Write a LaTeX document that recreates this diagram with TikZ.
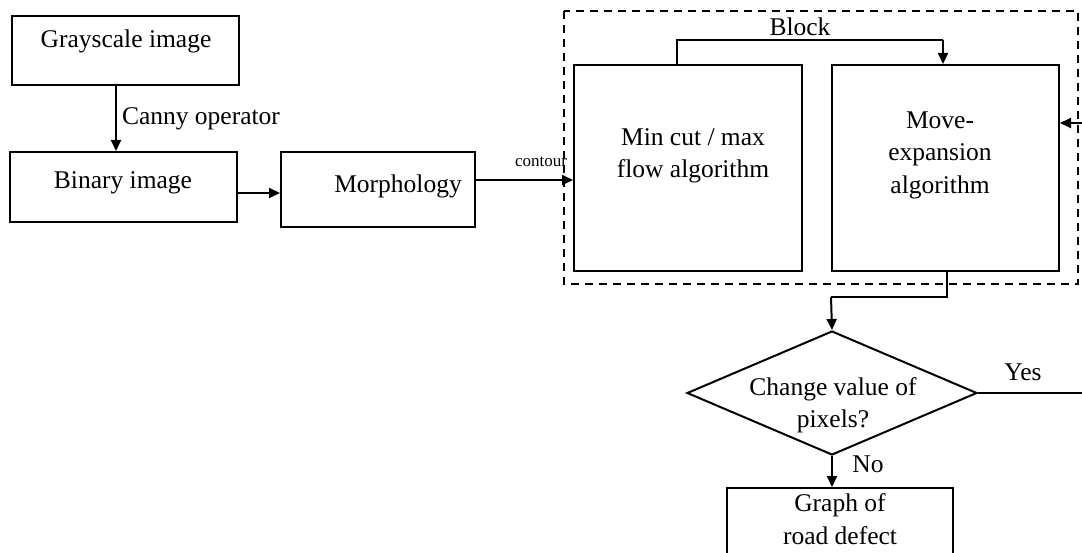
\documentclass[tikz,border=0pt]{standalone}
\usepackage{fontspec}
\setmainfont{Liberation Serif}
\usetikzlibrary{arrows.meta,shapes.geometric}
\begin{document}
\begin{tikzpicture}[x=1pt,y=-1pt,
  box/.style={draw,line width=2pt,rectangle,inner sep=0pt},
  txt/.style={inner sep=0pt,align=center,font=\fontsize{25.5}{32.5}\selectfont},
  small/.style={inner sep=0pt,font=\fontsize{17}{20}\selectfont},
  ln/.style={line width=2pt},
  arr/.style={line width=2pt,-{Triangle[length=11pt,width=10pt]}},
  dbox/.style={draw,line width=2pt,dash pattern=on 8pt off 6pt}]
\useasboundingbox (0,0) rectangle (1082,553);
\clip (0,0) rectangle (1082,553);
% boxes
\node[box,minimum width=227pt,minimum height=69pt] (gray) at (125.5,50.5) {};
\node[box,minimum width=227pt,minimum height=70pt] (bin) at (123.5,187) {};
\node[box,minimum width=194pt,minimum height=75pt] (morph) at (378,189.5) {};
\node[box,minimum width=228pt,minimum height=206pt] (mincut) at (688,168) {};
\node[box,minimum width=227pt,minimum height=206pt] (movex) at (945.5,168) {};
\node[draw,diamond,line width=2pt,inner sep=0pt,minimum width=290pt,minimum height=124pt] (dec) at (832,393) {};
\node[box,minimum width=226pt,minimum height=90pt] (graph) at (840,533) {};
\draw[dbox] (564,11) rectangle (1078,284);
% texts
\node[txt] (tgray) at (126,41) {Grayscale image};
\node[txt] (tbin) at (123,183) {Binary image};
\node[txt] (tmorph) at (398,186) {Morphology};
\node[txt] (tmin) at (693,156) {Min cut / max\\flow algorithm};
\node[txt] (tmove) at (940,155) {Move-\\expansion\\algorithm};
\node[txt] (tdec) at (833,405) {Change value of\\pixels?};
\node[txt] (tgraph) at (840,519) {Graph of\\road defect};
% connectors
\draw[arr] ([xshift=-9.5pt]gray.south) -- ([xshift=-7.5pt]bin.north)
  node[midway,right=5pt,txt] (lcanny) {Canny operator};
\draw[arr] (bin.east |- 0,193) -- (morph.west |- 0,193);
\draw[arr] (morph.east |- 0,180) -- (mincut.west |- 0,180);
\node[small] (lcont) at (541,162) {contour};
\coordinate (b1) at (677,40);
\coordinate (b2) at (943,40);
\draw[ln] (mincut.north -| b1) -- (b1) -- (b2);
\draw[arr] (b2) -- (movex.north -| b2);
\node[txt] (lblock) at (800,27) {Block};
\coordinate (rin) at (1084,123);
\draw[arr] (rin) -- (movex.east |- rin);
\coordinate (c1) at (947,297);
\coordinate (c2) at (831,297);
\draw[ln] (movex.south -| c1) -- (c1) -- (c2);
\draw[arr] (c2) -- (dec.north);
\coordinate (yesend) at (1084,393);
\draw[ln] (dec.east) -- (yesend);
\node[txt] (lyes) at (1023,372) {Yes};
\draw[arr] (dec.south) -- (graph.north -| dec.south);
\node[txt] (lno) at (868,464) {No};
\end{tikzpicture}
\end{document}
